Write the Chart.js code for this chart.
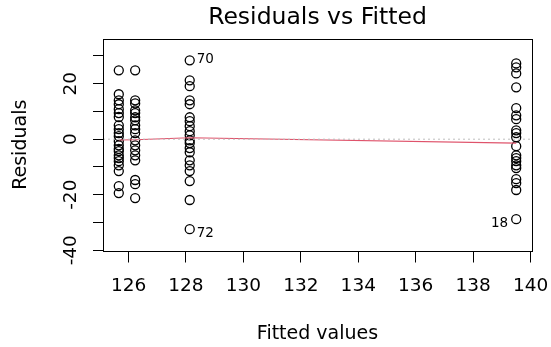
<!DOCTYPE html>
<html>
<head>
<meta charset="utf-8">
<title>Residuals vs Fitted</title>
<script src="https://cdn.jsdelivr.net/npm/chart.js@4/dist/chart.umd.min.js"></script>
<style>
  html, body { margin: 0; padding: 0; background: #ffffff; }
  #wrap { width: 551px; height: 347px; }
</style>
</head>
<body>
<div id="wrap"><canvas id="plot" width="551" height="347"></canvas></div>
<script>
// Fitted value of each group and the residuals observed at it
const fittedLevels = [125.66, 126.23, 128.13, 139.50];
const residualsA = [24.8, 16.2, 14.0, 12.6, 10.8, 9.4, 8.0, 5.0, 3.6, 2.2, 1.1, -0.7, -2.2, -3.5, -4.3, -5.8, -6.8, -7.9, -9.4, -11.5, -16.9, -19.4];
const residualsB = [24.8, 14.0, 12.9, 10.4, 9.4, 7.9, 6.8, 5.0, 3.6, 2.2, -0.4, -2.2, -4.0, -5.8, -7.6, -14.7, -16.2, -21.2];
const residualsC = [28.4, 21.2, 19.1, 14.0, 12.6, 7.9, 6.5, 4.7, 2.9, 1.4, -0.4, -1.4, -3.2, -4.7, -7.6, -9.4, -11.5, -15.1, -21.9, -32.4];
const residualsD = [27.3, 25.9, 23.7, 18.7, 11.2, 8.6, 7.2, 3.2, 2.2, 0.7, -2.5, -5.8, -6.8, -7.9, -9.4, -10.4, -14.4, -15.8, -18.3, -28.8];

// Smoothed trend of the residuals at each fitted level
const smoothValues = [-0.3, -0.2, 0.5, -1.4];

// Observations flagged by number
const idLabels = ['70', '72', '18'];
const idFitted = [128.13, 128.13, 139.50];
const idResiduals = [28.4, -32.4, -28.8];

// Axis ranges and ticks
const xLimits = [125.11, 140.05];
const yLimits = [-40.1, 36.1];
const xTickValues = [126, 128, 130, 132, 134, 136, 138, 140];
const yTickValues = [-40, -30, -20, -10, 0, 10, 20, 30];
const yLabelledTicks = [-40, -20, 0, 20];

const residualGroups = [residualsA, residualsB, residualsC, residualsD];
const residualPoints = [];
residualGroups.forEach((group, i) => {
  group.forEach(r => residualPoints.push({ x: fittedLevels[i], y: r }));
});
const smoothPoints = fittedLevels.map((f, i) => ({ x: f, y: smoothValues[i] }));
const zeroLine = [{ x: xLimits[0], y: 0 }, { x: xLimits[1], y: 0 }];

const FONT = 'DejaVu Sans';
Chart.defaults.color = '#000000';
Chart.defaults.font.family = FONT;

// Frame, heading and point labels
const decorations = {
  id: 'decorations',
  afterDraw(chart) {
    const { ctx, chartArea: a, scales } = chart;
    ctx.save();
    ctx.strokeStyle = '#000000';
    ctx.lineWidth = 1;
    ctx.strokeRect(Math.round(a.left) + 0.5, Math.round(a.top) + 0.5,
                   Math.round(a.right - a.left), Math.round(a.bottom - a.top));

    ctx.fillStyle = '#000000';
    ctx.font = '23.5px "' + FONT + '"';
    ctx.textAlign = 'center';
    ctx.textBaseline = 'middle';
    ctx.fillText('Residuals vs Fitted', (a.left + a.right) / 2, 18);

    // labels sit beside their point; negative ones drop a little lower
    ctx.font = '13.5px "' + FONT + '"';
    const midX = (xLimits[0] + xLimits[1]) / 2;
    idLabels.forEach((lab, i) => {
      const px = scales.x.getPixelForValue(idFitted[i]);
      const py = scales.y.getPixelForValue(idResiduals[i]) - 1 + (idResiduals[i] < 0 ? 5 : 0);
      if (idFitted[i] > midX) {
        ctx.textAlign = 'right';
        ctx.fillText(lab, px - 8, py);
      } else {
        ctx.textAlign = 'left';
        ctx.fillText(lab, px + 7, py);
      }
    });
    ctx.restore();
  }
};

new Chart(document.getElementById('plot'), {
  type: 'scatter',
  data: {
    datasets: [
      {
        label: 'Residuals',
        data: residualPoints,
        pointStyle: 'circle',
        pointRadius: 4.5,
        pointBorderWidth: 1.3,
        pointBorderColor: '#000000',
        pointBackgroundColor: 'rgba(0,0,0,0)',
        order: 2
      },
      {
        label: 'Smooth',
        type: 'line',
        data: smoothPoints,
        borderColor: '#DF536B',
        borderWidth: 1.1,
        pointRadius: 0,
        fill: false,
        tension: 0,
        order: 1
      },
      {
        label: 'Zero',
        type: 'line',
        data: zeroLine,
        borderColor: '#BEBEBE',
        borderWidth: 1,
        borderDash: [2, 3],
        pointRadius: 0,
        fill: false,
        order: 0
      }
    ]
  },
  options: {
    responsive: false,
    animation: false,
    devicePixelRatio: 1,
    layout: { padding: { top: 39, right: 19, bottom: 0, left: 0 } },
    plugins: {
      legend: { display: false },
      tooltip: { enabled: false },
      title: { display: false }
    },
    scales: {
      x: {
        type: 'linear',
        min: xLimits[0],
        max: xLimits[1],
        afterBuildTicks(scale) { scale.ticks = xTickValues.map(v => ({ value: v })); },
        afterFit(scale) { scale.height = 96.5; scale.paddingLeft = 0; scale.paddingRight = 0; },
        border: { display: false },
        grid: { drawOnChartArea: false, drawTicks: true, tickLength: 12, color: '#000000', lineWidth: 1 },
        ticks: { font: { size: 18.5 }, padding: 13, maxRotation: 0, autoSkip: false, callback: v => String(v) },
        title: { display: true, text: 'Fitted values', font: { size: 19 }, padding: { top: 0, bottom: 2 } }
      },
      y: {
        type: 'linear',
        min: yLimits[0],
        max: yLimits[1],
        afterBuildTicks(scale) { scale.ticks = yTickValues.map(v => ({ value: v })); },
        afterFit(scale) { scale.width = 103; scale.paddingTop = 0; scale.paddingBottom = 0; },
        border: { display: false },
        grid: { drawOnChartArea: false, drawTicks: true, tickLength: 10, color: '#000000', lineWidth: 1 },
        ticks: {
          font: { size: 18.5 },
          minRotation: 90,
          maxRotation: 90,
          crossAlign: 'center',
          padding: 7,
          autoSkip: false,
          callback: v => (yLabelledTicks.includes(v) ? String(v) : '')
        },
        title: { display: true, text: 'Residuals', font: { size: 19 }, padding: { top: 10, bottom: 0 } }
      }
    }
  },
  plugins: [decorations]
});
</script>
</body>
</html>
